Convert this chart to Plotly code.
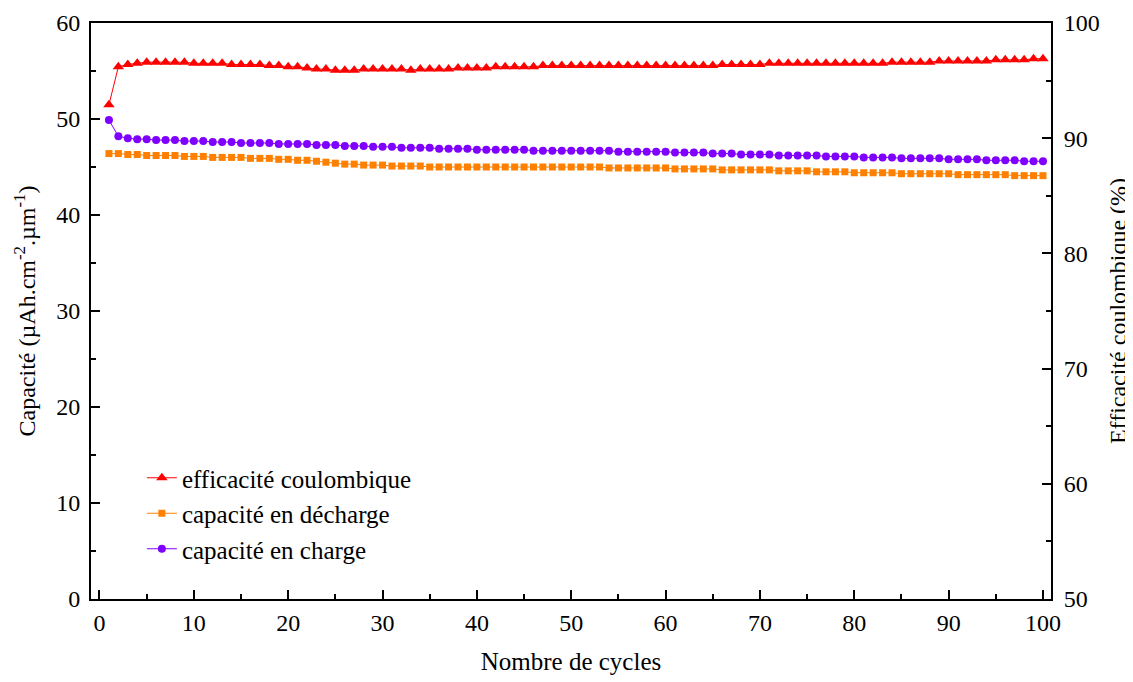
import plotly.graph_objects as go

cycles = list(range(1, 101))

efficacite = [
    92.9, 96.2, 96.4, 96.5, 96.6, 96.6, 96.6, 96.6, 96.6, 96.5,
    96.5, 96.5, 96.5, 96.4, 96.4, 96.4, 96.4, 96.3, 96.3, 96.2,
    96.2, 96.1, 96.0, 96.0, 95.9, 95.9, 95.9, 96.0, 96.0, 96.0,
    96.0, 96.0, 95.9, 96.0, 96.0, 96.0, 96.0, 96.1, 96.1, 96.1,
    96.1, 96.2, 96.2, 96.2, 96.2, 96.2, 96.3, 96.3, 96.3, 96.3,
    96.3, 96.3, 96.3, 96.3, 96.3, 96.3, 96.3, 96.3, 96.3, 96.3,
    96.3, 96.3, 96.3, 96.3, 96.3, 96.4, 96.4, 96.4, 96.4, 96.4,
    96.5, 96.5, 96.5, 96.5, 96.5, 96.5, 96.5, 96.5, 96.5, 96.5,
    96.5, 96.5, 96.5, 96.6, 96.6, 96.6, 96.6, 96.6, 96.7, 96.7,
    96.7, 96.7, 96.7, 96.7, 96.8, 96.8, 96.8, 96.8, 96.9, 96.9,
]

decharge = [
    46.4, 46.4, 46.3, 46.3, 46.2, 46.2, 46.2, 46.2, 46.1, 46.1,
    46.1, 46.0, 46.0, 46.0, 46.0, 45.9, 45.9, 45.9, 45.8, 45.8,
    45.7, 45.7, 45.6, 45.5, 45.4, 45.3, 45.3, 45.2, 45.2, 45.2,
    45.1, 45.1, 45.1, 45.1, 45.0, 45.0, 45.0, 45.0, 45.0, 45.0,
    45.0, 45.0, 45.0, 45.0, 45.0, 45.0, 45.0, 45.0, 45.0, 45.0,
    45.0, 45.0, 45.0, 44.9, 44.9, 44.9, 44.9, 44.9, 44.9, 44.9,
    44.8, 44.8, 44.8, 44.8, 44.8, 44.7, 44.7, 44.7, 44.7, 44.7,
    44.7, 44.6, 44.6, 44.6, 44.6, 44.5, 44.5, 44.5, 44.5, 44.4,
    44.4, 44.4, 44.4, 44.4, 44.3, 44.3, 44.3, 44.3, 44.3, 44.3,
    44.2, 44.2, 44.2, 44.2, 44.2, 44.2, 44.1, 44.1, 44.1, 44.1,
]

charge = [
    49.9, 48.2, 48.0, 47.9, 47.9, 47.8, 47.8, 47.8, 47.7, 47.7,
    47.7, 47.6, 47.6, 47.6, 47.5, 47.5, 47.5, 47.5, 47.4, 47.4,
    47.4, 47.4, 47.3, 47.3, 47.3, 47.2, 47.2, 47.2, 47.1, 47.1,
    47.1, 47.0, 47.0, 47.0, 47.0, 46.9, 46.9, 46.9, 46.9, 46.8,
    46.8, 46.8, 46.8, 46.8, 46.8, 46.7, 46.7, 46.7, 46.7, 46.7,
    46.7, 46.7, 46.7, 46.7, 46.6, 46.6, 46.6, 46.6, 46.6, 46.6,
    46.5, 46.5, 46.5, 46.5, 46.4, 46.4, 46.4, 46.3, 46.3, 46.3,
    46.3, 46.2, 46.2, 46.2, 46.2, 46.2, 46.1, 46.1, 46.1, 46.1,
    46.0, 46.0, 46.0, 46.0, 45.9, 45.9, 45.9, 45.9, 45.9, 45.8,
    45.8, 45.8, 45.8, 45.7, 45.7, 45.7, 45.7, 45.6, 45.6, 45.6,
]

x_ticks = list(range(0, 101, 10))
y_ticks = list(range(0, 61, 10))
y2_ticks = list(range(50, 101, 10))

FONT = "Liberation Serif"
RED = "#FF0000"
ORANGE = "#FF8000"
PURPLE = "#8000FF"

fig = go.Figure()
fig.add_trace(go.Scatter(
    x=cycles, y=efficacite, name="efficacité coulombique", yaxis="y2",
    mode="lines+markers",
    line=dict(color=RED, width=1),
    marker=dict(symbol="triangle-up", size=10, color=RED),
))
fig.add_trace(go.Scatter(
    x=cycles, y=decharge, name="capacité en décharge",
    mode="lines+markers",
    line=dict(color=ORANGE, width=1),
    marker=dict(symbol="square", size=7, color=ORANGE),
))
fig.add_trace(go.Scatter(
    x=cycles, y=charge, name="capacité en charge",
    mode="lines+markers",
    line=dict(color=PURPLE, width=1),
    marker=dict(symbol="circle", size=8, color=PURPLE),
))

axis_common = dict(
    showgrid=False, zeroline=False, showline=True, linecolor="black", linewidth=2,
    ticks="inside", ticklen=9, tickwidth=2, tickcolor="black",
    tickfont=dict(family=FONT, size=24, color="black"),
    automargin=False,
)

# page body has an 8px margin: figure is 8px smaller, left/top margins shifted accordingly
fig.update_layout(
    width=1125, height=674,
    paper_bgcolor="white", plot_bgcolor="white",
    margin=dict(l=83, r=82, t=15, b=83),
    font=dict(family=FONT, color="black"),
    xaxis=dict(
        **axis_common, range=[-0.9, 100.85], tickvals=x_ticks, mirror=True,
        ticklabelstandoff=1,
        minor=dict(ticks="inside", ticklen=5, tickwidth=2, tickcolor="black", dtick=5, tick0=0),
        title=dict(text="Nombre de cycles", font=dict(family=FONT, size=25), standoff=18),
    ),
    yaxis=dict(
        **axis_common, range=[0, 60], tickvals=y_ticks, ticklabelstandoff=4,
        minor=dict(ticks="inside", ticklen=5, tickwidth=2, tickcolor="black", dtick=5, tick0=0),
        title=dict(text="Capacité (µAh.cm<sup>-2</sup>.µm<sup>-1</sup>)", font=dict(family=FONT, size=24), standoff=14),
    ),
    yaxis2=dict(
        **axis_common, range=[50, 100], tickvals=y2_ticks, overlaying="y", side="right",
        ticklabelstandoff=6,
        minor=dict(ticks="inside", ticklen=5, tickwidth=2, tickcolor="black", dtick=5, tick0=50),
        title=dict(text="Efficacité coulombique (%)", font=dict(family=FONT, size=24), standoff=10),
    ),
    legend=dict(
        x=0.053, y=0.25, xanchor="left", yanchor="top",
        bgcolor="rgba(0,0,0,0)", font=dict(family=FONT, size=25, color="black"),
    ),
)

fig.write_html("out.html")
